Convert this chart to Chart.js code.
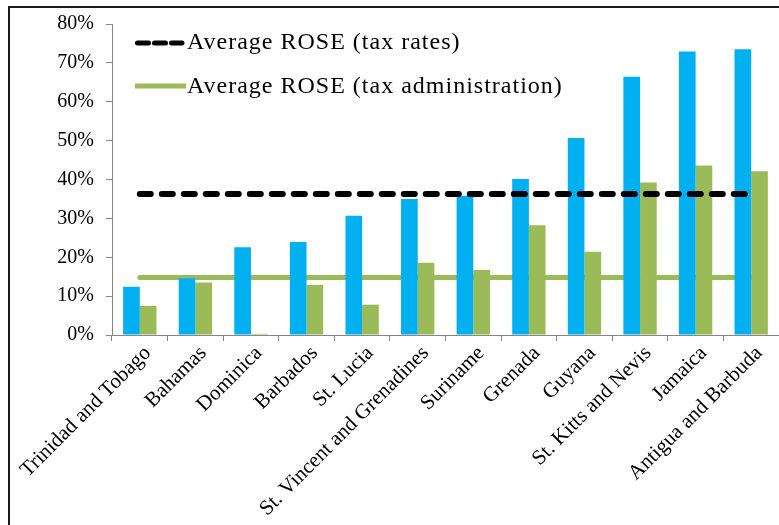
<!DOCTYPE html>
<html>
<head>
<meta charset="utf-8">
<script src="https://cdn.jsdelivr.net/npm/chart.js@4/dist/chart.umd.min.js"></script>
<style>
  html, body { margin: 0; padding: 0; background: #fff; }
  #wrap { width: 779px; height: 525px; position: relative; }
</style>
</head>
<body>
<div id="wrap"><canvas id="c" width="779" height="525"></canvas></div>
<script>
const categories = ["Trinidad and Tobago", "Bahamas", "Dominica", "Barbados", "St. Lucia",
  "St. Vincent and Grenadines", "Suriname", "Grenada", "Guyana", "St. Kitts and Nevis",
  "Jamaica", "Antigua and Barbuda"];
const taxRates = [12.4, 14.6, 22.6, 23.9, 30.7, 35.0, 35.8, 40.1, 50.7, 66.4, 72.9, 73.5];
const taxAdmin = [7.5, 13.5, 0.3, 12.9, 7.8, 18.6, 16.7, 28.2, 21.4, 39.2, 43.6, 42.1];
const avgTaxRates = [36.3, 36.3, 36.3, 36.3, 36.3, 36.3, 36.3, 36.3, 36.3, 36.3, 36.3, 36.3];
const avgTaxAdmin = [14.8, 14.8, 14.8, 14.8, 14.8, 14.8, 14.8, 14.8, 14.8, 14.8, 14.8, 14.8];
const yTicks = [0, 10, 20, 30, 40, 50, 60, 70, 80];
const legendLabels = ["Average ROSE (tax rates)", "Average ROSE (tax administration)"];

const BLUE = "#00B0F0", GREEN = "#9BBB59", AXIS = "#868686";
const SERIF = "'Liberation Serif', 'Times New Roman', serif";

const framePlugin = {
  id: "frame",
  beforeDraw(chart) {
    const ctx = chart.ctx;
    ctx.save();
    ctx.fillStyle = "#1a1a1a";
    ctx.fillRect(8, 6, 2, 525);
    ctx.fillRect(8, 6, 779, 2);
    ctx.restore();
  }
};

const legendPlugin = {
  id: "customLegend",
  afterDraw(chart) {
    const ctx = chart.ctx;
    ctx.save();
    ctx.lineCap = "round";
    ctx.strokeStyle = "#000";
    ctx.lineWidth = 5;
    ctx.setLineDash([11, 6]);
    ctx.beginPath();
    ctx.moveTo(137.5, 43);
    ctx.lineTo(182, 43);
    ctx.stroke();
    ctx.setLineDash([]);
    ctx.strokeStyle = GREEN;
    ctx.lineCap = "butt";
    ctx.beginPath();
    ctx.moveTo(135, 86);
    ctx.lineTo(186, 86);
    ctx.stroke();
    ctx.fillStyle = "#000";
    ctx.font = "24px " + SERIF;
    ctx.textBaseline = "middle";
    try { ctx.letterSpacing = "1px"; } catch (e) {}
    ctx.fillText(legendLabels[0], 187, 43);
    ctx.fillText(legendLabels[1], 187, 87);
    ctx.restore();
  }
};

new Chart(document.getElementById("c"), {
  type: "bar",
  data: {
    labels: categories,
    datasets: [
      { type: "line", label: legendLabels[0], data: avgTaxRates, borderColor: "#000",
        borderWidth: 6, borderDash: [11, 11], borderCapStyle: "round", pointRadius: 0,
        fill: false, order: 1 },
      { label: "ROSE (tax rates)", data: taxRates, backgroundColor: BLUE, order: 2,
        categoryPercentage: 0.6, barPercentage: 1.0 },
      { label: "ROSE (tax administration)", data: taxAdmin, backgroundColor: GREEN, order: 2,
        categoryPercentage: 0.6, barPercentage: 1.0 },
      { type: "line", label: legendLabels[1], data: avgTaxAdmin, borderColor: GREEN,
        borderWidth: 5, borderCapStyle: "round", pointRadius: 0, fill: false, order: 3 }
    ]
  },
  options: {
    responsive: false,
    animation: false,
    layout: { padding: { top: 21, right: 0, left: 0, bottom: 0 } },
    plugins: { legend: { display: false }, tooltip: { enabled: false } },
    scales: {
      x: {
        grid: { offset: true, drawOnChartArea: false, drawTicks: true, tickLength: 6, color: AXIS },
        border: { color: AXIS, width: 1 },
        ticks: { color: "#000", font: { family: SERIF, size: 21 }, minRotation: 45, maxRotation: 45,
          autoSkip: false, padding: 0, labelOffset: 8 },
        afterFit(scale) { scale.height = 190; }
      },
      y: {
        min: 0, max: 80,
        afterBuildTicks(scale) { scale.ticks = yTicks.map(v => ({ value: v })); },
        grid: { drawOnChartArea: false, drawTicks: true, tickLength: 6, color: AXIS },
        border: { color: AXIS, width: 1 },
        ticks: { color: "#000", font: { family: SERIF, size: 20 }, padding: 12,
          callback: v => v + "%" },
        afterFit(scale) { scale.width = 112; }
      }
    }
  },
  plugins: [framePlugin, legendPlugin]
});
</script>
</body>
</html>
